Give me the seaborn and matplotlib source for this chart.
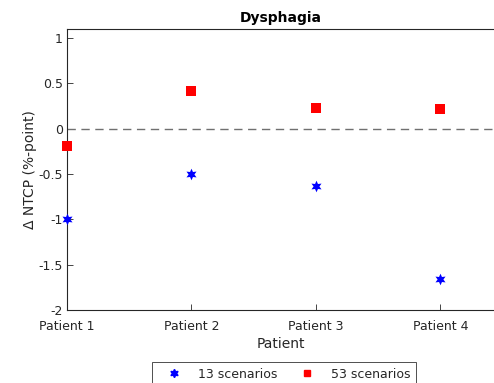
import matplotlib
matplotlib.use("Agg")
import matplotlib.pyplot as plt
import seaborn as sns
import pandas as pd
from matplotlib.lines import Line2D

patients = ["Patient 1", "Patient 2", "Patient 3", "Patient 4"]
scen13 = [-1.00, -0.50, -0.63, -1.66]
scen53 = [-0.19, 0.42, 0.23, 0.22]
series_names = ["13 scenarios", "53 scenarios"]

rows = []
for i, p in enumerate(patients):
    rows.append({"x": i + 1, "y": scen13[i], "series": series_names[0]})
    rows.append({"x": i + 1, "y": scen53[i], "series": series_names[1]})
df = pd.DataFrame(rows)

sns.set_theme(style="white")
plt.rcParams["font.family"] = ["DejaVu Sans"]

fig = plt.figure(figsize=(4.94, 3.83), dpi=100)
ax = fig.add_axes([67 / 494, 1 - 310 / 383, 1 - 67 / 494, (310 - 29) / 383])

star = (6, 1, 0)
palette = {series_names[0]: "#0000ff", series_names[1]: "#ff0000"}
markers = {series_names[0]: star, series_names[1]: "s"}
sizes = {series_names[0]: 70, series_names[1]: 55}

for name in series_names:
    sub = df[df["series"] == name]
    sns.scatterplot(data=sub, x="x", y="y", ax=ax, color=palette[name],
                    marker=markers[name], s=sizes[name], linewidth=0,
                    clip_on=False, zorder=3, legend=False)

ax.axhline(0, color="#707070", linestyle=(0, (6, 4)), linewidth=1.0, zorder=1)

ax.set_xlim(1, 4.43)
ax.set_ylim(-2, 1.1)
ax.set_xticks([1, 2, 3, 4])
ax.set_xticklabels(patients)
ax.set_yticks([-2, -1.5, -1, -0.5, 0, 0.5, 1])
ax.set_yticklabels(["-2", "-1.5", "-1", "-0.5", "0", "0.5", "1"])
ax.tick_params(axis="both", direction="in", length=4, width=0.6,
               labelsize=9, colors="#262626", pad=3,
               bottom=True, left=True)
ax.tick_params(axis="x", pad=7)
for s in ["left", "bottom", "top"]:
    ax.spines[s].set_color("#262626")
    ax.spines[s].set_linewidth(0.8)
ax.spines["right"].set_visible(False)

ax.set_xlabel("Patient", fontsize=10, color="#262626", labelpad=3)
ax.set_ylabel("Δ NTCP (%-point)", fontsize=10, color="#262626", labelpad=1)
ax.set_title("Dysphagia", fontsize=10, fontweight="bold", color="black", pad=5)

handles = [
    Line2D([], [], linestyle="none", marker=star, color="#0000ff", markersize=6),
    Line2D([], [], linestyle="none", marker="s", color="#ff0000", markersize=5),
]
leg = fig.legend(handles, series_names, loc="upper center",
                 bbox_to_anchor=(0.575, 1 - 362 / 383), ncol=2, fontsize=9,
                 frameon=True, fancybox=False, edgecolor="black",
                 borderpad=0.45, handlelength=2.6, handletextpad=0.62,
                 columnspacing=1.02, borderaxespad=0)
leg.get_frame().set_linewidth(0.6)

fig.savefig("out.png", dpi=100)
